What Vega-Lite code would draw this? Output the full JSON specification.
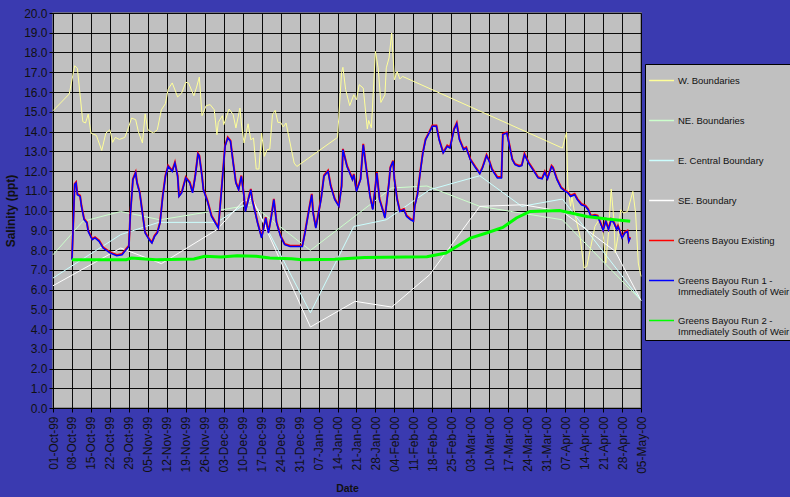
{
  "$schema": "https://vega.github.io/schema/vega-lite/v6.json",
  "width": 588,
  "height": 395,
  "autosize": {"type": "none"},
  "padding": {"left": 53, "top": 13, "right": 149, "bottom": 89},
  "background": "#3a3ab0",
  "config": {
    "font": "Liberation Sans",
    "view": {"fill": "#c0c0c0", "stroke": "#808080", "strokeWidth": 1.5},
    "axis": {
      "domainColor": "#000000",
      "tickColor": "#000000",
      "tickSize": 4,
      "gridColor": "#000000",
      "gridOpacity": 0.95,
      "gridWidth": 1,
      "labelColor": "#111111",
      "labelFont": "Liberation Sans",
      "labelFontSize": 12,
      "titleColor": "#111111",
      "titleFont": "Liberation Sans",
      "titleFontWeight": "bold"
    }
  },
  "datasets": {
    "W": [
      {"d": "1999-10-01T00:00", "v": 15.05}, {"d": "1999-10-07T00:00", "v": 15.9}, {"d": "1999-10-09T00:00", "v": 17.33}, {"d": "1999-10-10T00:00", "v": 17.2},
      {"d": "1999-10-12T00:00", "v": 14.5}, {"d": "1999-10-13T00:00", "v": 14.43}, {"d": "1999-10-14T00:00", "v": 14.88}, {"d": "1999-10-15T00:00", "v": 13.92},
      {"d": "1999-10-17T00:00", "v": 13.8}, {"d": "1999-10-19T00:00", "v": 13.04}, {"d": "1999-10-20T12:00", "v": 13.92}, {"d": "1999-10-22T00:00", "v": 14.09},
      {"d": "1999-10-23T00:00", "v": 13.45}, {"d": "1999-10-24T00:00", "v": 13.7}, {"d": "1999-10-25T12:00", "v": 13.6}, {"d": "1999-10-27T12:00", "v": 13.7},
      {"d": "1999-10-28T12:00", "v": 14.06}, {"d": "1999-10-30T00:00", "v": 14.68}, {"d": "1999-10-31T12:00", "v": 14.6}, {"d": "1999-11-01T12:00", "v": 14.0},
      {"d": "1999-11-03T00:00", "v": 13.42}, {"d": "1999-11-04T00:00", "v": 14.89}, {"d": "1999-11-05T00:00", "v": 14.09}, {"d": "1999-11-07T00:00", "v": 13.92},
      {"d": "1999-11-08T12:00", "v": 14.09}, {"d": "1999-11-10T00:00", "v": 15.1}, {"d": "1999-11-11T12:00", "v": 15.41}, {"d": "1999-11-12T12:00", "v": 16.15},
      {"d": "1999-11-14T00:00", "v": 16.46}, {"d": "1999-11-16T00:00", "v": 15.75}, {"d": "1999-11-17T12:00", "v": 15.95}, {"d": "1999-11-19T00:00", "v": 16.49},
      {"d": "1999-11-20T00:00", "v": 16.46}, {"d": "1999-11-22T00:00", "v": 15.81}, {"d": "1999-11-23T00:00", "v": 16.25}, {"d": "1999-11-24T00:00", "v": 16.76},
      {"d": "1999-11-25T00:00", "v": 14.8}, {"d": "1999-11-26T12:00", "v": 15.31}, {"d": "1999-11-28T00:00", "v": 15.36}, {"d": "1999-11-29T12:00", "v": 15.1},
      {"d": "1999-11-30T12:00", "v": 13.84}, {"d": "1999-12-01T00:00", "v": 14.46}, {"d": "1999-12-02T12:00", "v": 14.8}, {"d": "1999-12-03T00:00", "v": 14.34},
      {"d": "1999-12-05T00:00", "v": 15.14}, {"d": "1999-12-06T12:00", "v": 14.85}, {"d": "1999-12-07T12:00", "v": 14.18}, {"d": "1999-12-09T00:00", "v": 15.19},
      {"d": "1999-12-09T12:00", "v": 14.43}, {"d": "1999-12-10T12:00", "v": 13.42}, {"d": "1999-12-12T00:00", "v": 14.39}, {"d": "1999-12-13T00:00", "v": 13.58},
      {"d": "1999-12-14T00:00", "v": 13.67}, {"d": "1999-12-15T00:00", "v": 12.1}, {"d": "1999-12-16T00:00", "v": 12.1}, {"d": "1999-12-17T00:00", "v": 13.92},
      {"d": "1999-12-18T00:00", "v": 12.74}, {"d": "1999-12-19T00:00", "v": 13.08}, {"d": "1999-12-20T00:00", "v": 13.11}, {"d": "1999-12-21T00:00", "v": 14.85},
      {"d": "1999-12-22T00:00", "v": 15.07}, {"d": "1999-12-23T00:00", "v": 14.46}, {"d": "1999-12-24T00:00", "v": 14.46}, {"d": "1999-12-25T00:00", "v": 14.23},
      {"d": "1999-12-26T00:00", "v": 14.43}, {"d": "1999-12-29T00:00", "v": 12.4}, {"d": "1999-12-30T00:00", "v": 12.23}, {"d": "2000-01-14T00:00", "v": 13.7},
      {"d": "2000-01-15T12:00", "v": 16.99}, {"d": "2000-01-16T00:00", "v": 17.25}, {"d": "2000-01-17T00:00", "v": 16.12}, {"d": "2000-01-18T12:00", "v": 15.31},
      {"d": "2000-01-20T00:00", "v": 15.86}, {"d": "2000-01-21T00:00", "v": 15.61}, {"d": "2000-01-22T00:00", "v": 16.37}, {"d": "2000-01-23T12:00", "v": 16.2},
      {"d": "2000-01-25T00:00", "v": 14.13}, {"d": "2000-01-25T12:00", "v": 14.56}, {"d": "2000-01-26T12:00", "v": 14.18}, {"d": "2000-01-28T00:00", "v": 18.06},
      {"d": "2000-01-29T00:00", "v": 17.22}, {"d": "2000-01-30T00:00", "v": 15.47}, {"d": "2000-01-31T12:00", "v": 15.86}, {"d": "2000-02-01T00:00", "v": 17.22},
      {"d": "2000-02-02T00:00", "v": 17.72}, {"d": "2000-02-03T00:00", "v": 18.99}, {"d": "2000-02-04T00:00", "v": 16.62}, {"d": "2000-02-05T00:00", "v": 17.04},
      {"d": "2000-02-06T00:00", "v": 16.66}, {"d": "2000-02-07T00:00", "v": 16.79}, {"d": "2000-04-06T00:00", "v": 13.16}, {"d": "2000-04-07T12:00", "v": 13.96},
      {"d": "2000-04-08T00:00", "v": 11.22}, {"d": "2000-04-09T00:00", "v": 10.21}, {"d": "2000-04-09T12:00", "v": 10.71}, {"d": "2000-04-10T12:00", "v": 9.87},
      {"d": "2000-04-12T12:00", "v": 8.69}, {"d": "2000-04-14T00:00", "v": 7.09}, {"d": "2000-04-15T00:00", "v": 7.17}, {"d": "2000-04-16T12:00", "v": 8.18},
      {"d": "2000-04-18T00:00", "v": 9.19}, {"d": "2000-04-19T12:00", "v": 9.53}, {"d": "2000-04-21T00:00", "v": 8.86}, {"d": "2000-04-22T00:00", "v": 7.34},
      {"d": "2000-04-23T00:00", "v": 8.86}, {"d": "2000-04-24T00:00", "v": 11.09}, {"d": "2000-04-25T00:00", "v": 9.53}, {"d": "2000-04-25T12:00", "v": 7.85},
      {"d": "2000-04-26T12:00", "v": 8.69}, {"d": "2000-04-27T12:00", "v": 10.04}, {"d": "2000-04-28T12:00", "v": 9.87}, {"d": "2000-04-30T00:00", "v": 9.95},
      {"d": "2000-05-02T00:00", "v": 10.97}, {"d": "2000-05-03T00:00", "v": 9.87}, {"d": "2000-05-04T00:00", "v": 7.34}, {"d": "2000-05-05T00:00", "v": 6.66}
    ],
    "NE": [
      {"d": "1999-10-01T00:00", "v": 7.76}, {"d": "1999-10-12T00:00", "v": 9.45}, {"d": "1999-10-26T00:00", "v": 9.95}, {"d": "1999-11-09T12:00", "v": 9.53},
      {"d": "1999-12-13T12:00", "v": 10.29}, {"d": "2000-01-04T00:00", "v": 7.98}, {"d": "2000-02-03T00:00", "v": 11.14}, {"d": "2000-02-16T00:00", "v": 11.24},
      {"d": "2000-03-06T12:00", "v": 10.21}, {"d": "2000-04-06T00:00", "v": 9.53}, {"d": "2000-05-05T00:00", "v": 5.45}
    ],
    "EC": [
      {"d": "1999-10-01T00:00", "v": 6.58}, {"d": "1999-10-26T00:00", "v": 8.78}, {"d": "1999-11-09T00:00", "v": 9.4}, {"d": "1999-11-30T12:00", "v": 9.4},
      {"d": "1999-12-13T12:00", "v": 10.55}, {"d": "2000-01-04T00:00", "v": 4.82}, {"d": "2000-01-20T00:00", "v": 9.19}, {"d": "2000-02-01T00:00", "v": 9.53},
      {"d": "2000-02-17T00:00", "v": 11.05}, {"d": "2000-03-06T12:00", "v": 11.76}, {"d": "2000-03-22T00:00", "v": 10.21}, {"d": "2000-04-06T00:00", "v": 10.58},
      {"d": "2000-05-05T00:00", "v": 5.45}
    ],
    "SE": [
      {"d": "1999-10-01T00:00", "v": 6.19}, {"d": "1999-10-26T00:00", "v": 8.1}, {"d": "1999-11-10T00:00", "v": 7.31}, {"d": "1999-11-30T12:00", "v": 9.03},
      {"d": "1999-12-10T00:00", "v": 10.45}, {"d": "1999-12-13T12:00", "v": 10.63}, {"d": "2000-01-04T00:00", "v": 4.1}, {"d": "2000-01-20T12:00", "v": 5.4},
      {"d": "2000-02-03T00:00", "v": 5.11}, {"d": "2000-02-17T00:00", "v": 6.75}, {"d": "2000-03-06T12:00", "v": 10.21}, {"d": "2000-03-22T12:00", "v": 10.29},
      {"d": "2000-04-06T00:00", "v": 9.95}, {"d": "2000-04-25T12:00", "v": 7.93}, {"d": "2000-05-05T00:00", "v": 5.45}
    ],
    "GB": [
      {"d": "1999-10-08T00:00", "v": 7.51}, {"d": "1999-10-09T00:00", "v": 11.31}, {"d": "1999-10-09T12:00", "v": 11.39}, {"d": "1999-10-10T00:00", "v": 10.8},
      {"d": "1999-10-11T00:00", "v": 10.71}, {"d": "1999-10-11T12:00", "v": 10.21}, {"d": "1999-10-12T12:00", "v": 9.53}, {"d": "1999-10-13T12:00", "v": 9.37},
      {"d": "1999-10-14T00:00", "v": 8.94}, {"d": "1999-10-15T12:00", "v": 8.52}, {"d": "1999-10-16T12:00", "v": 8.61}, {"d": "1999-10-18T00:00", "v": 8.44},
      {"d": "1999-10-19T12:00", "v": 8.1}, {"d": "1999-10-22T00:00", "v": 7.85}, {"d": "1999-10-24T12:00", "v": 7.71}, {"d": "1999-10-26T12:00", "v": 7.76},
      {"d": "1999-10-28T00:00", "v": 8.02}, {"d": "1999-10-29T00:00", "v": 8.18}, {"d": "1999-10-29T12:00", "v": 9.7}, {"d": "1999-10-30T12:00", "v": 11.56},
      {"d": "1999-10-31T12:00", "v": 11.9}, {"d": "1999-11-01T00:00", "v": 11.39}, {"d": "1999-11-02T00:00", "v": 10.89}, {"d": "1999-11-03T00:00", "v": 9.87},
      {"d": "1999-11-04T00:00", "v": 8.86}, {"d": "1999-11-05T12:00", "v": 8.52}, {"d": "1999-11-06T12:00", "v": 8.35}, {"d": "1999-11-07T12:00", "v": 8.69},
      {"d": "1999-11-08T12:00", "v": 8.86}, {"d": "1999-11-09T12:00", "v": 9.37}, {"d": "1999-11-10T12:00", "v": 10.71}, {"d": "1999-11-11T12:00", "v": 11.73},
      {"d": "1999-11-12T12:00", "v": 12.23}, {"d": "1999-11-14T00:00", "v": 11.98}, {"d": "1999-11-15T00:00", "v": 12.4}, {"d": "1999-11-16T00:00", "v": 11.73},
      {"d": "1999-11-16T12:00", "v": 10.71}, {"d": "1999-11-17T12:00", "v": 10.89}, {"d": "1999-11-19T00:00", "v": 11.65}, {"d": "1999-11-20T12:00", "v": 11.39},
      {"d": "1999-11-21T12:00", "v": 10.89}, {"d": "1999-11-22T12:00", "v": 11.73}, {"d": "1999-11-23T12:00", "v": 12.85}, {"d": "1999-11-24T00:00", "v": 12.74},
      {"d": "1999-11-25T00:00", "v": 11.73}, {"d": "1999-11-25T12:00", "v": 11.05}, {"d": "1999-11-27T00:00", "v": 10.46}, {"d": "1999-11-28T12:00", "v": 9.7},
      {"d": "1999-12-01T00:00", "v": 9.11}, {"d": "1999-12-02T00:00", "v": 10.71}, {"d": "1999-12-03T12:00", "v": 13.25}, {"d": "1999-12-04T12:00", "v": 13.67},
      {"d": "1999-12-05T12:00", "v": 13.5}, {"d": "1999-12-06T12:00", "v": 12.4}, {"d": "1999-12-07T12:00", "v": 11.39}, {"d": "1999-12-08T12:00", "v": 11.05},
      {"d": "1999-12-09T12:00", "v": 11.73}, {"d": "1999-12-10T12:00", "v": 10.71}, {"d": "1999-12-11T00:00", "v": 9.95}, {"d": "1999-12-13T00:00", "v": 11.05},
      {"d": "1999-12-13T12:00", "v": 10.55}, {"d": "1999-12-15T12:00", "v": 9.37}, {"d": "1999-12-17T00:00", "v": 8.61}, {"d": "1999-12-18T12:00", "v": 9.62},
      {"d": "1999-12-19T12:00", "v": 8.86}, {"d": "1999-12-20T12:00", "v": 9.62}, {"d": "1999-12-21T12:00", "v": 10.55}, {"d": "1999-12-22T12:00", "v": 9.37},
      {"d": "1999-12-24T00:00", "v": 8.69}, {"d": "1999-12-25T12:00", "v": 8.27}, {"d": "1999-12-27T12:00", "v": 8.18}, {"d": "2000-01-01T00:00", "v": 8.18},
      {"d": "2000-01-02T00:00", "v": 8.86}, {"d": "2000-01-03T12:00", "v": 10.04}, {"d": "2000-01-04T12:00", "v": 10.8}, {"d": "2000-01-05T00:00", "v": 9.87},
      {"d": "2000-01-06T00:00", "v": 9.11}, {"d": "2000-01-07T00:00", "v": 9.87}, {"d": "2000-01-08T00:00", "v": 10.63}, {"d": "2000-01-09T00:00", "v": 11.73},
      {"d": "2000-01-10T12:00", "v": 11.98}, {"d": "2000-01-11T12:00", "v": 11.22}, {"d": "2000-01-13T00:00", "v": 10.55}, {"d": "2000-01-14T12:00", "v": 10.21},
      {"d": "2000-01-15T12:00", "v": 11.22}, {"d": "2000-01-16T00:00", "v": 13.08}, {"d": "2000-01-17T12:00", "v": 12.23}, {"d": "2000-01-18T12:00", "v": 11.9},
      {"d": "2000-01-19T12:00", "v": 11.56}, {"d": "2000-01-20T00:00", "v": 11.81}, {"d": "2000-01-21T00:00", "v": 10.97}, {"d": "2000-01-22T12:00", "v": 11.56},
      {"d": "2000-01-23T12:00", "v": 13.33}, {"d": "2000-01-24T12:00", "v": 12.23}, {"d": "2000-01-26T00:00", "v": 10.71}, {"d": "2000-01-27T00:00", "v": 10.04},
      {"d": "2000-01-28T00:00", "v": 11.22}, {"d": "2000-01-28T12:00", "v": 11.9}, {"d": "2000-01-29T12:00", "v": 10.55}, {"d": "2000-01-31T00:00", "v": 9.87},
      {"d": "2000-01-31T12:00", "v": 9.62}, {"d": "2000-02-02T00:00", "v": 11.39}, {"d": "2000-02-02T12:00", "v": 12.15}, {"d": "2000-02-03T12:00", "v": 12.49},
      {"d": "2000-02-04T00:00", "v": 11.56}, {"d": "2000-02-05T00:00", "v": 10.55}, {"d": "2000-02-06T00:00", "v": 9.95}, {"d": "2000-02-07T12:00", "v": 10.04},
      {"d": "2000-02-08T12:00", "v": 9.7}, {"d": "2000-02-10T00:00", "v": 9.53}, {"d": "2000-02-11T00:00", "v": 9.45}, {"d": "2000-02-11T12:00", "v": 10.21},
      {"d": "2000-02-12T12:00", "v": 10.8}, {"d": "2000-02-13T12:00", "v": 11.9}, {"d": "2000-02-14T12:00", "v": 12.91}, {"d": "2000-02-15T12:00", "v": 13.58},
      {"d": "2000-02-16T12:00", "v": 13.84}, {"d": "2000-02-18T00:00", "v": 14.26}, {"d": "2000-02-19T12:00", "v": 14.26}, {"d": "2000-02-20T12:00", "v": 13.58},
      {"d": "2000-02-22T00:00", "v": 12.91}, {"d": "2000-02-23T12:00", "v": 13.25}, {"d": "2000-02-24T12:00", "v": 13.16}, {"d": "2000-02-26T00:00", "v": 14.09},
      {"d": "2000-02-27T00:00", "v": 14.39}, {"d": "2000-02-28T00:00", "v": 13.58}, {"d": "2000-02-29T12:00", "v": 13.08}, {"d": "2000-03-01T12:00", "v": 13.16},
      {"d": "2000-03-03T00:00", "v": 12.57}, {"d": "2000-03-05T00:00", "v": 12.15}, {"d": "2000-03-06T12:00", "v": 11.86}, {"d": "2000-03-07T12:00", "v": 12.15},
      {"d": "2000-03-09T00:00", "v": 12.77}, {"d": "2000-03-10T00:00", "v": 12.49}, {"d": "2000-03-11T00:00", "v": 12.07}, {"d": "2000-03-13T00:00", "v": 11.65},
      {"d": "2000-03-14T12:00", "v": 11.65}, {"d": "2000-03-15T00:00", "v": 13.84}, {"d": "2000-03-16T12:00", "v": 13.92}, {"d": "2000-03-17T12:00", "v": 13.25},
      {"d": "2000-03-18T12:00", "v": 12.57}, {"d": "2000-03-19T12:00", "v": 12.32}, {"d": "2000-03-21T00:00", "v": 12.23}, {"d": "2000-03-22T00:00", "v": 12.27},
      {"d": "2000-03-23T00:00", "v": 12.83}, {"d": "2000-03-24T12:00", "v": 12.4}, {"d": "2000-03-26T12:00", "v": 11.98}, {"d": "2000-03-28T00:00", "v": 11.65},
      {"d": "2000-03-29T12:00", "v": 11.6}, {"d": "2000-03-30T12:00", "v": 11.93}, {"d": "2000-03-31T12:00", "v": 11.6}, {"d": "2000-04-02T00:00", "v": 12.23},
      {"d": "2000-04-02T12:00", "v": 12.15}, {"d": "2000-04-04T00:00", "v": 11.56}, {"d": "2000-04-05T12:00", "v": 11.14}, {"d": "2000-04-07T00:00", "v": 10.97},
      {"d": "2000-04-08T00:00", "v": 10.89}, {"d": "2000-04-09T00:00", "v": 10.71}, {"d": "2000-04-10T12:00", "v": 10.8}, {"d": "2000-04-11T12:00", "v": 10.55},
      {"d": "2000-04-13T00:00", "v": 10.29}, {"d": "2000-04-14T12:00", "v": 10.21}, {"d": "2000-04-15T12:00", "v": 10.04}, {"d": "2000-04-16T12:00", "v": 9.7},
      {"d": "2000-04-18T00:00", "v": 9.74}, {"d": "2000-04-19T00:00", "v": 9.7}, {"d": "2000-04-20T12:00", "v": 9.19}, {"d": "2000-04-21T00:00", "v": 8.99},
      {"d": "2000-04-22T00:00", "v": 9.45}, {"d": "2000-04-23T00:00", "v": 9.03}, {"d": "2000-04-24T00:00", "v": 9.53}, {"d": "2000-04-25T00:00", "v": 9.37},
      {"d": "2000-04-26T00:00", "v": 9.03}, {"d": "2000-04-26T12:00", "v": 9.19}, {"d": "2000-04-28T00:00", "v": 8.61}, {"d": "2000-04-29T00:00", "v": 8.86},
      {"d": "2000-04-30T00:00", "v": 8.94}, {"d": "2000-04-30T12:00", "v": 8.44}, {"d": "2000-05-01T00:00", "v": 8.61}
    ],
    "R2": [
      {"d": "1999-10-08T00:00", "v": 7.51}, {"d": "1999-10-28T00:00", "v": 7.51}, {"d": "1999-10-30T00:00", "v": 7.59}, {"d": "1999-11-04T00:00", "v": 7.55},
      {"d": "1999-11-08T00:00", "v": 7.51}, {"d": "1999-11-22T00:00", "v": 7.55}, {"d": "1999-11-26T00:00", "v": 7.68}, {"d": "1999-12-02T00:00", "v": 7.64},
      {"d": "1999-12-08T00:00", "v": 7.71}, {"d": "1999-12-15T00:00", "v": 7.68}, {"d": "1999-12-20T00:00", "v": 7.6}, {"d": "1999-12-28T00:00", "v": 7.56},
      {"d": "2000-01-01T00:00", "v": 7.51}, {"d": "2000-01-13T00:00", "v": 7.53}, {"d": "2000-01-24T00:00", "v": 7.62}, {"d": "2000-02-16T00:00", "v": 7.66},
      {"d": "2000-02-23T00:00", "v": 7.85}, {"d": "2000-02-27T00:00", "v": 8.18}, {"d": "2000-03-03T00:00", "v": 8.6}, {"d": "2000-03-09T00:00", "v": 8.86},
      {"d": "2000-03-15T00:00", "v": 9.14}, {"d": "2000-03-20T00:00", "v": 9.62}, {"d": "2000-03-25T00:00", "v": 9.95}, {"d": "2000-04-05T00:00", "v": 10.0},
      {"d": "2000-04-15T00:00", "v": 9.7}, {"d": "2000-04-22T12:00", "v": 9.57}, {"d": "2000-05-01T00:00", "v": 9.45}
    ]
  },
  "encoding": {
    "x": {
      "field": "d",
      "type": "temporal",
      "scale": {"domain": [{"year": 1999, "month": 10, "date": 1}, {"year": 2000, "month": 5, "date": 5}], "nice": false},
      "axis": {
        "title": "Date",
        "titleFontSize": 10.5,
        "titlePadding": 10,
        "format": "%d-%b-%y",
        "labelAngle": 270,
        "labelPadding": 4,
        "values": [
          {"year": 1999, "month": 10, "date": 1}, {"year": 1999, "month": 10, "date": 8}, {"year": 1999, "month": 10, "date": 15}, {"year": 1999, "month": 10, "date": 22},
          {"year": 1999, "month": 10, "date": 29}, {"year": 1999, "month": 11, "date": 5}, {"year": 1999, "month": 11, "date": 12}, {"year": 1999, "month": 11, "date": 19},
          {"year": 1999, "month": 11, "date": 26}, {"year": 1999, "month": 12, "date": 3}, {"year": 1999, "month": 12, "date": 10}, {"year": 1999, "month": 12, "date": 17},
          {"year": 1999, "month": 12, "date": 24}, {"year": 1999, "month": 12, "date": 31}, {"year": 2000, "month": 1, "date": 7}, {"year": 2000, "month": 1, "date": 14},
          {"year": 2000, "month": 1, "date": 21}, {"year": 2000, "month": 1, "date": 28}, {"year": 2000, "month": 2, "date": 4}, {"year": 2000, "month": 2, "date": 11},
          {"year": 2000, "month": 2, "date": 18}, {"year": 2000, "month": 2, "date": 25}, {"year": 2000, "month": 3, "date": 3}, {"year": 2000, "month": 3, "date": 10},
          {"year": 2000, "month": 3, "date": 17}, {"year": 2000, "month": 3, "date": 24}, {"year": 2000, "month": 3, "date": 31}, {"year": 2000, "month": 4, "date": 7},
          {"year": 2000, "month": 4, "date": 14}, {"year": 2000, "month": 4, "date": 21}, {"year": 2000, "month": 4, "date": 28}, {"year": 2000, "month": 5, "date": 5}
        ]
      }
    },
    "y": {
      "field": "v",
      "type": "quantitative",
      "scale": {"domain": [0, 20], "nice": false},
      "axis": {
        "title": "Salinity (ppt)",
        "titleFontSize": 12,
        "titlePadding": 6,
        "format": ".1f",
        "values": [0, 1, 2, 3, 4, 5, 6, 7, 8, 9, 10, 11, 12, 13, 14, 15, 16, 17, 18, 19, 20]
      }
    }
  },
  "layer": [
    {
      "data": {"name": "W"},
      "mark": {"type": "line", "strokeWidth": 1},
      "encoding": {
        "color": {
          "datum": "W. Boundaries",
          "type": "nominal",
          "scale": {
            "domain": ["W. Boundaries", "NE. Boundaries", "E. Central Boundary", "SE. Boundary", "Greens Bayou Existing", "Greens Bayou Run 1 - Immediately South of Weir", "Greens Bayou Run 2 - Immediately South of Weir"],
            "range": ["#ffff99", "#ccffcc", "#ccffff", "#ffffff", "#ff0000", "#0000ff", "#00ff00"]
          },
          "legend": {
            "title": null,
            "orient": "none",
            "legendX": 592,
            "legendY": 51,
            "fillColor": "#c0c0c0",
            "strokeColor": "#000000",
            "padding": 3,
            "symbolType": "stroke",
            "symbolSize": 625,
            "symbolStrokeWidth": 1.5,
            "labelFont": "Liberation Sans",
            "labelFontSize": 9.5,
            "labelColor": "#111111",
            "labelOffset": 3,
            "labelLimit": 300,
            "rowPadding": 10,
            "labelExpr": "indexof(datum.label, ' - ') > 0 ? [slice(datum.label, 0, indexof(datum.label, ' - ') + 2), slice(datum.label, indexof(datum.label, ' - ') + 3)] : [datum.label, ' ']"
          }
        }
      }
    },
    {
      "data": {"name": "NE"},
      "mark": {"type": "line", "strokeWidth": 1},
      "encoding": {"color": {"datum": "NE. Boundaries", "type": "nominal"}}
    },
    {
      "data": {"name": "EC"},
      "mark": {"type": "line", "strokeWidth": 1},
      "encoding": {"color": {"datum": "E. Central Boundary", "type": "nominal"}}
    },
    {
      "data": {"name": "SE"},
      "mark": {"type": "line", "strokeWidth": 1},
      "encoding": {"color": {"datum": "SE. Boundary", "type": "nominal"}}
    },
    {
      "data": {"name": "GB"},
      "mark": {"type": "line", "strokeWidth": 2, "yOffset": -0.8},
      "encoding": {"color": {"datum": "Greens Bayou Existing", "type": "nominal"}}
    },
    {
      "data": {"name": "GB"},
      "mark": {"type": "line", "strokeWidth": 1.5},
      "encoding": {"color": {"datum": "Greens Bayou Run 1 - Immediately South of Weir", "type": "nominal"}}
    },
    {
      "data": {"name": "R2"},
      "mark": {"type": "line", "strokeWidth": 3},
      "encoding": {"color": {"datum": "Greens Bayou Run 2 - Immediately South of Weir", "type": "nominal"}}
    }
  ]
}
